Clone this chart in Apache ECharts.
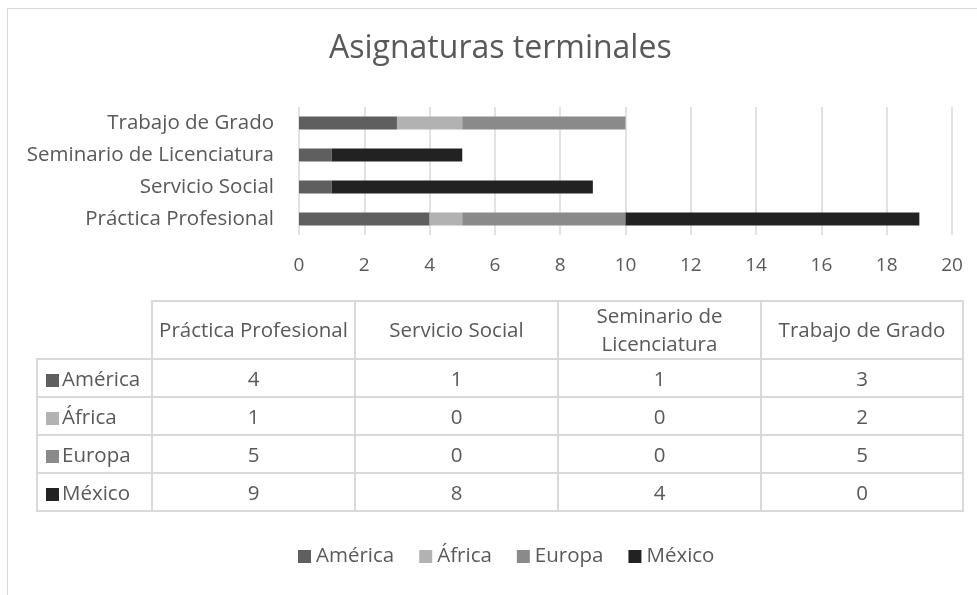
<!DOCTYPE html>
<html>
<head>
<meta charset="utf-8">
<script src="https://cdn.jsdelivr.net/npm/echarts@6/dist/echarts.min.js"></script>
<style>
  html, body { margin: 0; padding: 0; background: #fff; }
  body { width: 977px; height: 595px; position: relative; overflow: hidden; font-family: "Open Sans", sans-serif; }
  .frame { position: absolute; left: 7px; top: 8px; width: 1000px; height: 600px; border-left: 1px solid #d9d9d9; border-top: 1px solid #d9d9d9; }
  #chart { position: absolute; left: 0; top: 0; width: 977px; height: 595px; }
  table.data { position: absolute; left: 36px; top: 300px; width: 926px; table-layout: fixed; border-collapse: collapse; color: #595959; font-size: 20.5px; }
  table.data td { border: 2px solid #d9d9d9; text-align: center; padding: 0; white-space: nowrap; }
  table.data td.corner { border-top: none; border-left: none; }
  table.data td.rowname { text-align: left; padding-left: 8px; }
  .key { display: inline-block; width: 13px; height: 13px; margin-right: 3px; vertical-align: -1px; }
</style>
</head>
<body>
<div class="frame"></div>
<div id="chart"></div>
<table class="data" id="dataTable"></table>
<script>
const categories = ["Práctica Profesional", "Servicio Social", "Seminario de Licenciatura", "Trabajo de Grado"];
const tableHeaders = ["Práctica Profesional", "Servicio Social", "Seminario de<br>Licenciatura", "Trabajo de Grado"];
const seriesNames = ["América", "África", "Europa", "México"];
const america = [4, 1, 1, 3];
const africa = [1, 0, 0, 2];
const europa = [5, 0, 0, 5];
const mexico = [9, 8, 4, 0];
const colors = ["#5f5f5f", "#b2b2b2", "#8a8a8a", "#222222"];
const seriesValues = [america, africa, europa, mexico];

const textColor = "#595959";
const chart = echarts.init(document.getElementById("chart"));

chart.setOption({
  animation: false,
  textStyle: { fontFamily: "'Open Sans', sans-serif" },
  title: {
    text: "Asignaturas terminales",
    left: 324,
    top: 28,
    textStyle: { color: textColor, fontSize: 32, fontWeight: "normal" },
  },
  grid: { left: 299, right: 25, top: 107, height: 128 },
  legend: {
    data: seriesNames,
    top: 541,
    left: 293,
    icon: "rect",
    itemWidth: 13,
    itemHeight: 13,
    itemGap: 25,
    textStyle: { color: textColor, fontSize: 20.5, padding: [0, 0, 0, 0] },
  },
  xAxis: {
    type: "value",
    min: 0,
    max: 20,
    interval: 2,
    axisLine: { show: false },
    axisTick: { show: false },
    axisLabel: { color: textColor, fontSize: 19, margin: 21 },
    splitLine: { lineStyle: { color: "#d9d9d9", width: 1.5 } },
  },
  yAxis: {
    type: "category",
    data: categories,
    axisLine: { show: false },
    axisTick: { show: false },
    axisLabel: { color: textColor, fontSize: 20.5, margin: 25 },
  },
  series: seriesNames.map((name, i) => ({
    name,
    type: "bar",
    stack: "total",
    barWidth: 13,
    data: seriesValues[i],
    itemStyle: { color: colors[i] },
  })),
});

// data table under the plot
const table = document.getElementById("dataTable");
const colW = [115, 203, 203, 203, 202];
let html = '<colgroup>' + colW.map((w) => '<col style="width:' + w + 'px">').join("") + "</colgroup>";
html += '<tr style="height:58px"><td class="corner"></td>';
tableHeaders.forEach((h) => {
  html += '<td style="line-height:1.35">' + h + "</td>";
});
html += "</tr>";
seriesNames.forEach((name, i) => {
  html += '<tr style="height:38px"><td class="rowname"><span class="key" style="background:' + colors[i] + '"></span>' + name + "</td>";
  seriesValues[i].forEach((v) => {
    html += "<td>" + v + "</td>";
  });
  html += "</tr>";
});
table.innerHTML = html;
</script>
</body>
</html>
